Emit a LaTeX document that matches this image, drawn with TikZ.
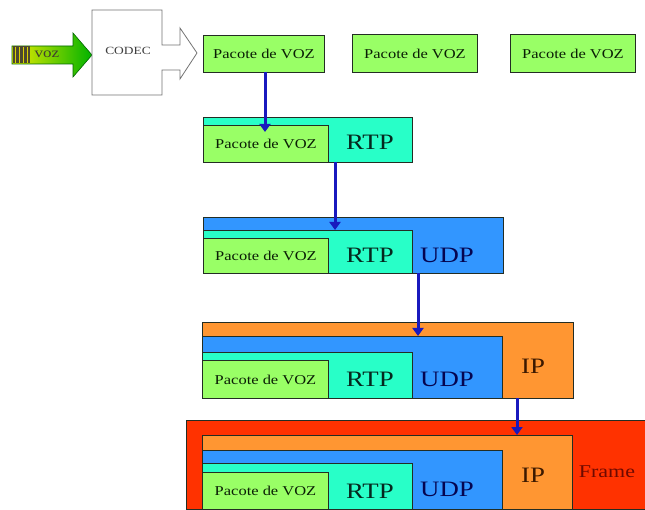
\documentclass[tikz,border=0pt]{standalone}
\usepackage{fontspec}
\setmainfont{Liberation Serif}
\newfontfamily\widefont[FakeStretch=1.22]{Liberation Serif}
\usetikzlibrary{arrows.meta}

\definecolor{vozgreen}{RGB}{153,255,102}
\definecolor{rtpcyan}{RGB}{40,255,200}
\definecolor{udpblue}{RGB}{50,150,255}
\definecolor{iporange}{RGB}{255,150,50}
\definecolor{framered}{RGB}{255,50,0}
\definecolor{flowblue}{RGB}{25,25,190}
\definecolor{edge}{RGB}{35,45,35}
\definecolor{vozink}{RGB}{10,30,5}
\definecolor{rtpink}{RGB}{5,40,30}
\definecolor{udpink}{RGB}{5,5,80}
\definecolor{ipink}{RGB}{60,25,0}
\definecolor{frameink}{RGB}{110,10,0}

\tikzset{
  layer/.style={draw=edge, line width=1pt, anchor=north west, inner sep=0pt},
  pkt/.style={layer, fill=vozgreen, text=vozink, font=\widefont\fontsize{13.5}{14}\selectfont},
  hdr/.style={font=\widefont\fontsize{22}{22}\selectfont, inner sep=0pt},
  flow/.style={draw=flowblue, line width=3pt, -{Triangle[width=11pt,length=8pt]}},
}

\begin{document}
\begin{tikzpicture}[x=1pt,y=-1pt]
\useasboundingbox (0,0) rectangle (645,510);
\clip (0,0) rectangle (645,510);

% input signal arrow
\shade[left color=yellow!85!olive, right color=green!70!black, draw=green!40!black, line width=0.6pt]
  (12,46) -- (73,46) -- (73,33) -- (92,55) -- (73,77) -- (73,64) -- (12,64) -- cycle;
\fill[black!60!olive] (12.5,46.5) rectangle (30,63.5);
\foreach \sx in {15,19,23,27}
  \fill[yellow!70!olive] (\sx,47) rectangle ++(1.2,16);
\node[text=olive!30!black, font=\widefont\fontsize{14}{14}\selectfont, inner sep=0pt] (voz) at (47,54) {voz};

% codec block with its output arrow
\draw[draw=black!55, fill=white, line width=0.8pt]
  (92,10) -- (162,10) -- (162,45) -- (180,45) -- (180,28) -- (197,53)
  -- (180,79) -- (180,70) -- (162,70) -- (162,95) -- (92,95) -- cycle;
\node[font=\widefont\fontsize{11}{11}\selectfont, text=black!75, inner sep=0pt] (codec) at (128,51) {CODEC};

% voice packets
\node[pkt, minimum width=121pt, minimum height=37pt] (p1) at (203,35) {Pacote de VOZ};
\node[pkt, minimum width=125pt, minimum height=38pt] (p2) at (352,34) {Pacote de VOZ};
\node[pkt, minimum width=125pt, minimum height=38pt] (p3) at (510,34) {Pacote de VOZ};

% RTP
\node[layer, fill=rtpcyan, minimum width=209pt, minimum height=45pt] (a2) at (203,117) {};
\node[pkt, minimum width=125pt, minimum height=37pt] (a1) at (203,125) {Pacote de VOZ};
\node[hdr, text=rtpink] (artp) at (370,142) {RTP};

% UDP
\node[layer, fill=udpblue, minimum width=300pt, minimum height=56pt] (b3) at (203,217) {};
\node[layer, fill=rtpcyan, minimum width=209pt, minimum height=43pt] (b2) at (203,230) {};
\node[pkt, minimum width=125pt, minimum height=35pt] (b1) at (203,238) {Pacote de VOZ};
\node[hdr, text=rtpink] (brtp) at (370,255) {RTP};
\node[hdr, text=udpink] (budp) at (447,255) {UDP};

% IP
\node[layer, fill=iporange, minimum width=371pt, minimum height=76pt] (c4) at (202,322) {};
\node[layer, fill=udpblue, minimum width=300pt, minimum height=62pt] (c3) at (202,336) {};
\node[layer, fill=rtpcyan, minimum width=210pt, minimum height=46pt] (c2) at (202,352) {};
\node[pkt, minimum width=126pt, minimum height=38pt] (c1) at (202,360) {Pacote de VOZ};
\node[hdr, text=rtpink] (crtp) at (370,379) {RTP};
\node[hdr, text=udpink] (cudp) at (447,379) {UDP};
\node[hdr, text=ipink] (cip) at (533,366) {IP};

% Frame
\node[layer, fill=framered, minimum width=470pt, minimum height=89pt] (d5) at (186,420) {};
\node[layer, fill=iporange, minimum width=370pt, minimum height=74pt] (d4) at (202,435) {};
\node[layer, fill=udpblue, minimum width=300pt, minimum height=59pt] (d3) at (202,450) {};
\node[layer, fill=rtpcyan, minimum width=210pt, minimum height=46pt] (d2) at (202,463) {};
\node[pkt, minimum width=126pt, minimum height=37pt] (d1) at (202,472) {Pacote de VOZ};
\node[hdr, text=rtpink] (drtp) at (370,491) {RTP};
\node[hdr, text=udpink] (dudp) at (447,489) {UDP};
\node[hdr, text=ipink] (dip) at (533,475) {IP};
\node[hdr, text=frameink, font=\widefont\fontsize{18}{18}\selectfont] (dfr) at (607,472) {Frame};

% encapsulation steps
\coordinate (s1) at (265,72);
\coordinate (s2) at (335,162);
\coordinate (s3) at (418,273);
\coordinate (s4) at (517,398);
\draw[flow] (s1) -- ([yshift=-7pt]s1 |- a1.north);
\draw[flow] (s2) -- (s2 |- b2.north);
\draw[flow] (s3) -- (s3 |- c3.north);
\draw[flow] (s4) -- (s4 |- d4.north);
\end{tikzpicture}
\end{document}
